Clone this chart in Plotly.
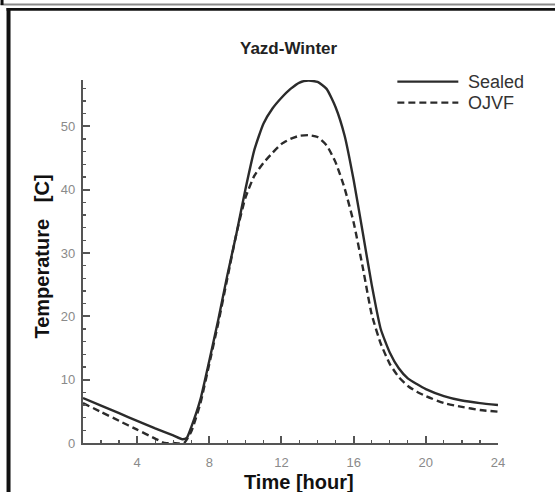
import plotly.graph_objects as go

# ---- data ----
hours_sealed = [1, 2, 3, 4, 5, 6, 6.5, 6.75, 7, 7.5, 8, 8.5, 9, 9.5, 10, 10.5, 11, 11.5,
                12, 12.5, 13, 13.5, 14, 14.5, 15, 15.5, 16, 16.5, 17, 17.5, 18, 18.5,
                19, 19.5, 20, 21, 22, 23, 24]
temp_sealed = [7.1, 5.9, 4.7, 3.5, 2.3, 1.2, 0.6, 0.8, 2.5, 6.8, 13.0, 19.5, 26.5, 33.0,
               40.0, 46.3, 50.4, 52.8, 54.5, 55.9, 56.9, 57.2, 57.0, 55.9, 53.0, 48.5,
               41.5, 33.3, 25.0, 18.0, 14.3, 11.8, 10.2, 9.3, 8.5, 7.4, 6.7, 6.3, 6.0]

hours_ojvf = [1, 2, 3, 4, 5, 5.5, 6, 6.6, 7, 7.5, 8, 8.5, 9, 9.5, 10, 10.5, 11, 11.5,
              12, 12.5, 13, 13.5, 14, 14.5, 15, 15.5, 16, 16.5, 17, 17.5, 18, 18.5,
              19, 19.5, 20, 21, 22, 23, 24]
temp_ojvf = [6.3, 4.9, 3.5, 2.1, 0.7, 0.0, 0.0, 0.0, 1.8, 6.2, 12.5, 19.0, 26.0, 33.0,
             38.7, 42.2, 44.2, 45.8, 47.2, 48.0, 48.5, 48.6, 48.3, 47.0, 44.3, 40.2,
             34.8, 27.8, 20.3, 15.7, 12.5, 10.4, 9.0, 8.1, 7.4, 6.3, 5.7, 5.2, 4.95]

series_names = ["Sealed", "OJVF"]
x_range = [1, 24]
y_range = [0, 57.3]

# ---- layout geometry (pixels) ----
W, H = 555, 492
L, R, T, B = 82.5, 497.7, 80, 443


def px(x):
    return (x - L) / (R - L)


def py(y):
    return (B - y) / (B - T)


line_col = "#2b2b2b"
axis_col = "#555555"
font_fam = "Liberation Sans, Arial, Helvetica, sans-serif"

fig = go.Figure()
fig.add_trace(go.Scatter(x=hours_sealed, y=temp_sealed, mode="lines", name=series_names[0],
                         line=dict(color=line_col, width=2.4, shape="spline", smoothing=0.5),
                         cliponaxis=True, showlegend=False))
fig.add_trace(go.Scatter(x=hours_ojvf, y=temp_ojvf, mode="lines", name=series_names[1],
                         line=dict(color=line_col, width=2.4, dash="7px,4px",
                                   shape="spline", smoothing=0.5),
                         cliponaxis=True, showlegend=False))

shapes = []
# decorative frames
shapes.append(dict(type="rect", xref="paper", yref="paper", x0=px(0), x1=px(556),
                   y0=py(3.5), y1=py(5.5), fillcolor="#8a8a8a", line_width=0, layer="above"))
shapes.append(dict(type="rect", xref="paper", yref="paper", x0=px(0), x1=px(3),
                   y0=py(-1), y1=py(5), fillcolor="#111111", line_width=0, layer="above"))
shapes.append(dict(type="rect", xref="paper", yref="paper", x0=px(6), x1=px(556),
                   y0=py(8), y1=py(10.8), fillcolor="#111111", line_width=0, layer="above"))
shapes.append(dict(type="rect", xref="paper", yref="paper", x0=px(6), x1=px(10),
                   y0=py(8), y1=py(493), fillcolor="#111111", line_width=0, layer="above"))
# legend samples
shapes.append(dict(type="line", xref="paper", yref="paper", x0=px(397), x1=px(458),
                   y0=py(81.7), y1=py(81.7), line=dict(color=line_col, width=2.2)))
shapes.append(dict(type="line", xref="paper", yref="paper", x0=px(397), x1=px(458),
                   y0=py(102.7), y1=py(102.7), line=dict(color=line_col, width=2.2, dash="7px,4px")))

C = dict(xanchor="center", yanchor="middle", showarrow=False, xref="paper", yref="paper")
annotations = [
    dict(text="<b>Yazd-Winter</b>", x=px(289), y=py(48),
         font=dict(size=17, color="#222222", family=font_fam), **C),
    dict(text="<b>Time [hour]</b>", x=px(299), y=py(482),
         font=dict(size=20, color="#111111", family=font_fam), **C),
    dict(text="<b>Temperature&nbsp;&nbsp; [C]</b>", x=px(41), y=py(257), textangle=-90,
         font=dict(size=20, color="#111111", family=font_fam), **C),
    dict(text=series_names[0], x=px(466), y=py(82), xanchor="left", yanchor="middle",
         showarrow=False, xref="paper", yref="paper",
         font=dict(size=18, color="#333333", family=font_fam)),
    dict(text=series_names[1], x=px(466), y=py(103), xanchor="left", yanchor="middle",
         showarrow=False, xref="paper", yref="paper",
         font=dict(size=18, color="#333333", family=font_fam)),
]

fig.update_layout(
    width=W, height=H,
    margin=dict(l=L, r=W - R, t=T, b=H - B, pad=0),
    paper_bgcolor="white", plot_bgcolor="white",
    shapes=shapes, annotations=annotations,
    font=dict(family=font_fam),
    showlegend=False,
)
fig.update_xaxes(range=x_range, showgrid=False, zeroline=False, showline=True,
                 linecolor=axis_col, linewidth=2.2, ticks="inside", ticklen=7, tickwidth=2,
                 tickcolor=axis_col, tick0=0, dtick=4, ticklabelstandoff=6,
                 tickfont=dict(size=13, color="#8a8a8a", family=font_fam),
                 minor=dict(ticks="inside", ticklen=3, tickwidth=1.2, tickcolor=axis_col,
                            dtick=1, tick0=0, showgrid=False))
fig.update_yaxes(range=y_range, showgrid=False, zeroline=False, showline=True,
                 linecolor=axis_col, linewidth=2.2, ticks="inside", ticklen=7, tickwidth=2,
                 tickcolor=axis_col, tick0=0, dtick=10, ticklabelstandoff=3,
                 tickfont=dict(size=13, color="#8a8a8a", family=font_fam),
                 minor=dict(ticks="inside", ticklen=3, tickwidth=1.2, tickcolor=axis_col,
                            dtick=2, tick0=0, showgrid=False))

fig.write_html("out.html", config={"displayModeBar": False, "staticPlot": True},
               post_script="document.body.style.margin='0';")
